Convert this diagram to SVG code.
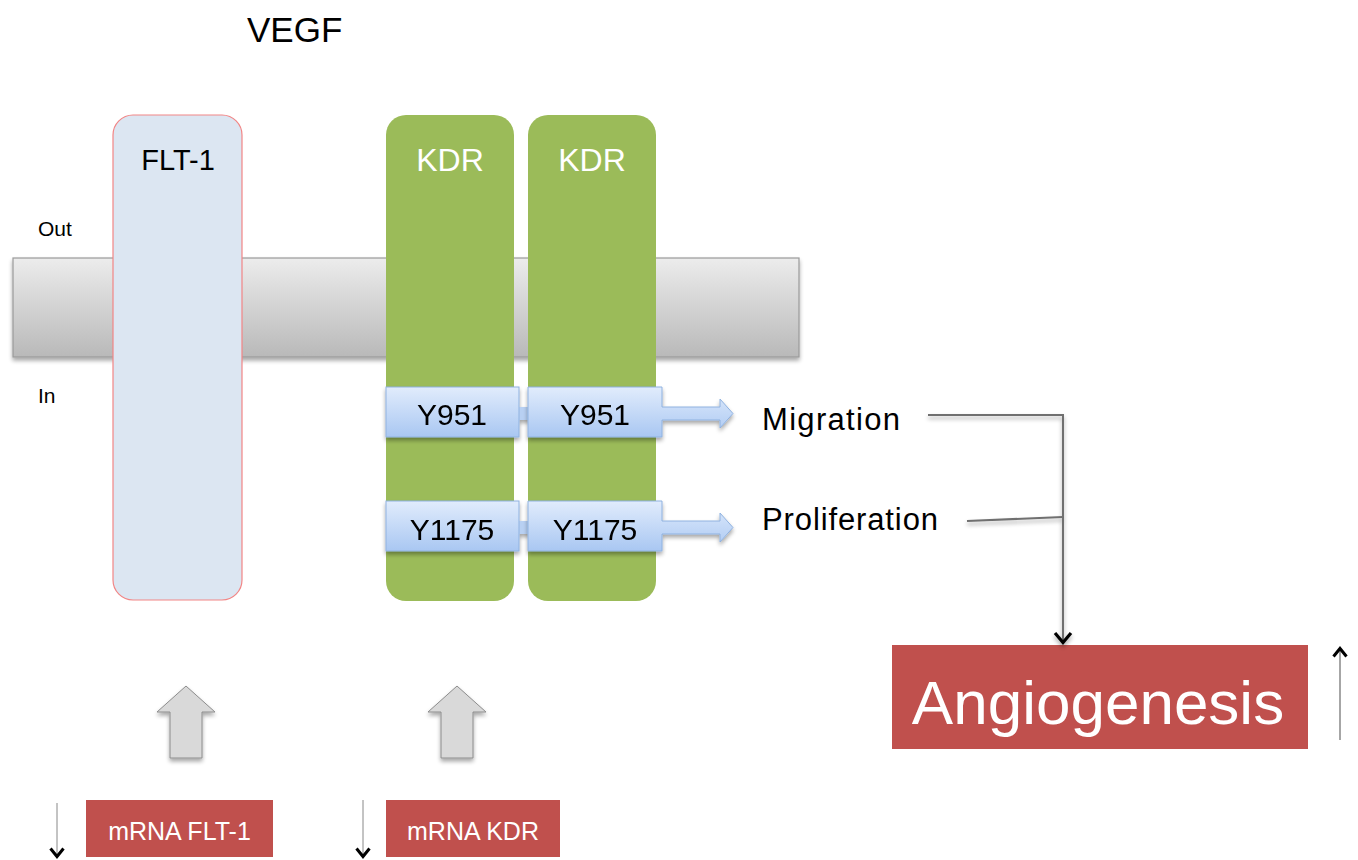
<svg xmlns="http://www.w3.org/2000/svg" width="1358" height="860" viewBox="0 0 1358 860">
<defs>
<linearGradient id="mem" x1="0" y1="0" x2="0" y2="1"><stop offset="0" stop-color="#ececec"/><stop offset="1" stop-color="#b9b9b9"/></linearGradient>
<linearGradient id="yb" x1="0" y1="0" x2="0" y2="1"><stop offset="0" stop-color="#e1ecfc"/><stop offset="1" stop-color="#a9c7f2"/></linearGradient>
<filter id="sh" x="-20%" y="-20%" width="140%" height="150%"><feGaussianBlur in="SourceAlpha" stdDeviation="2"/><feOffset dx="0" dy="3"/><feComponentTransfer><feFuncA type="linear" slope="0.35"/></feComponentTransfer><feMerge><feMergeNode/><feMergeNode in="SourceGraphic"/></feMerge></filter>
<marker id="chev" viewBox="0 0 14 20" refX="12" refY="10" markerWidth="14" markerHeight="20" markerUnits="userSpaceOnUse" orient="auto"><path d="M2,2 L11.5,10 L2,18" fill="none" stroke="#000" stroke-width="3.2"/></marker>
<marker id="chevs" viewBox="0 0 12 16" refX="10" refY="8" markerWidth="12" markerHeight="16" markerUnits="userSpaceOnUse" orient="auto"><path d="M1.5,1.5 L9.5,8 L1.5,14.5" fill="none" stroke="#000" stroke-width="3"/></marker>
</defs>
<style>
text{font-family:"Liberation Sans",Arial,sans-serif}
.blk{fill:#000}
.wht{fill:#fff}
.kdr{fill:#9bbb59}
.yb{fill:url(#yb);stroke:#8fb2e0;stroke-width:1}
.red{fill:#c0504d}
.garr{fill:#d9d9d9;stroke:#8c8c8c;stroke-width:1}
.conn{fill:none;stroke:#6f6f6f;stroke-width:2}
</style>
<rect width="1358" height="860" fill="#fff"/>
<text x="247" y="42" font-size="35" class="blk">VEGF</text>
<text x="38" y="236" font-size="21" class="blk">Out</text>
<text x="38" y="403" font-size="21" class="blk">In</text>
<g id="membrane"><rect x="13" y="258" width="786" height="99" fill="url(#mem)" stroke="#9a9a9a" stroke-width="1.2" filter="url(#sh)"/></g>
<g id="flt1"><rect x="113" y="115" width="129" height="485" rx="20" fill="#dce6f2" stroke="#f28585" stroke-width="1.2"/><text x="178" y="170" font-size="29" text-anchor="middle" class="blk">FLT-1</text></g>
<g id="kdr1"><rect x="386" y="115" width="128" height="486" rx="20" class="kdr"/><text x="450" y="171" font-size="32" text-anchor="middle" class="wht">KDR</text></g>
<g id="kdr2"><rect x="528" y="115" width="128" height="486" rx="20" class="kdr"/><text x="592" y="171" font-size="32" text-anchor="middle" class="wht">KDR</text></g>
<g id="y951a" filter="url(#sh)"><rect x="518" y="407" width="12" height="13" fill="#b8d0f2"/><rect x="386" y="387" width="133" height="50" class="yb"/><text x="452" y="425" font-size="30" text-anchor="middle" class="blk">Y951</text></g>
<g id="y951b" filter="url(#sh)"><path d="M528,387 H662 V407 H720 V399 L733,413.5 L720,428 V420 H662 V437 H528 Z" class="yb"/><text x="595" y="425" font-size="30" text-anchor="middle" class="blk">Y951</text></g>
<g id="y1175a" filter="url(#sh)"><rect x="518" y="521" width="12" height="13" fill="#b8d0f2"/><rect x="386" y="501" width="133" height="50" class="yb"/><text x="452" y="540" font-size="30" text-anchor="middle" class="blk">Y1175</text></g>
<g id="y1175b" filter="url(#sh)"><path d="M528,501 H662 V521 H720 V513 L733,527.5 L720,542 V534 H662 V551 H528 Z" class="yb"/><text x="595" y="540" font-size="30" text-anchor="middle" class="blk">Y1175</text></g>
<g id="migration"><text x="762" y="430" font-size="31" class="blk" textLength="138">Migration</text></g>
<g id="proliferation"><text x="762" y="530" font-size="31" class="blk" textLength="176">Proliferation</text></g>
<g id="angiogenesis"><rect x="892" y="645" width="416" height="104" class="red"/><text x="1098" y="724" font-size="62" text-anchor="middle" class="wht">Angiogenesis</text></g>
<g id="arrowFLT" filter="url(#sh)"><path d="M186,686 L215,712 H202 V758 H170 V712 H157 Z" class="garr"/></g>
<g id="arrowKDR" filter="url(#sh)"><path d="M457,686 L486,712 H473 V758 H441 V712 H428 Z" class="garr"/></g>
<g id="mrnaFLT"><rect x="86" y="800" width="187" height="57" class="red"/><text x="179.5" y="840" font-size="25" text-anchor="middle" class="wht">mRNA FLT-1</text></g>
<g id="mrnaKDR"><rect x="386" y="800" width="174" height="57" class="red"/><text x="473" y="840" font-size="25" text-anchor="middle" class="wht">mRNA KDR</text></g>
<g id="connectors">
<g filter="url(#sh)">
<path d="M928,415 H1063 V643" class="conn" marker-end="url(#chev)"/>
<path d="M967,521 L1063,517" class="conn"/>
</g>
<path d="M1340,740 V648" fill="none" stroke="#888" stroke-width="1.5" marker-end="url(#chevs)"/>
<path d="M57,803 V857" fill="none" stroke="#888" stroke-width="1" marker-end="url(#chevs)"/>
<path d="M363,800 V857" fill="none" stroke="#888" stroke-width="1" marker-end="url(#chevs)"/>
</g>
</svg>
